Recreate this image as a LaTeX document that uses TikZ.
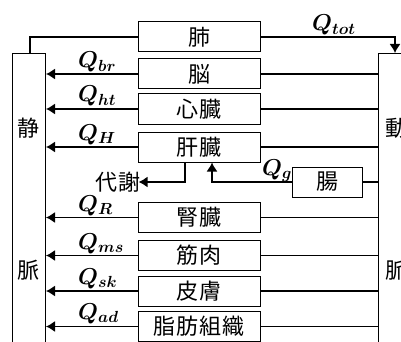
\documentclass[tikz,border=0pt]{standalone}
\usepackage{fix-cm}
\usepackage{amsmath}
\usepackage{fontspec}
\newfontfamily\jp{Noto Sans CJK JP}[LetterSpace=4]
\usetikzlibrary{arrows.meta}
\begin{document}
\begin{tikzpicture}[x=1pt,y=-1pt,
  box/.style={draw, line width=1pt, inner sep=0pt},
  organ/.style={box, minimum width=122pt, minimum height=30pt, font=\jp\fontsize{22}{22}\selectfont},
  jtext/.style={inner sep=0pt, font=\jp\fontsize{22}{22}\selectfont},
  flow/.style={line width=1.3pt},
  arr/.style={flow, -{Latex[length=9pt,width=11pt]}},
  ql/.style={anchor=base west, inner sep=0pt, font=\fontsize{23}{23}\selectfont\boldmath}]
\useasboundingbox (0,0) rectangle (401,342);
\clip (0,0) rectangle (401,342);
% vessels
\node[box, anchor=north west, minimum width=33pt, minimum height=320pt] (vein) at (12,53) {};
\node[box, anchor=north west, minimum width=40pt, minimum height=320pt] (art) at (378,53) {};
\node[jtext] (v1) at (28.5,128) {静};
\node[jtext] (v2) at (28.5,270) {脈};
\node[jtext] (a1) at (396,128) {動};
\node[jtext] (a2) at (396,270) {脈};
% organs
\node[organ] (lung) at (199,37) {肺};
\node[organ] (brain) at (199,74) {脳};
\node[organ] (heart) at (199,109) {心臓};
\node[organ] (liver) at (199,147) {肝臓};
\node[organ] (kidney) at (199,217.5) {腎臓};
\node[organ] (muscle) at (199,255.5) {筋肉};
\node[organ] (skin) at (199,291) {皮膚};
\node[organ] (fat) at (199,326.5) {脂肪組織};
\node[organ, minimum width=70pt] (gut) at (327,182) {腸};
\node[jtext] (metab) at (118,182) {代謝};
% lung loop
\coordinate (vtop) at (30,53);
\coordinate (atop) at (395,53);
\draw[flow] (lung.west) -| (vtop);
\draw[arr] (lung.east) -| (atop);
% organ connections
\foreach \o in {brain,heart,liver,kidney,muscle,skin,fat}{
  \draw[arr] (\o.west) -- (\o.west -| vein.east);
  \draw[flow] (\o.east) -- (\o.east -| art.west);
}
\draw[flow] (gut.east) -- (gut.east -| art.west);
\draw[arr] (gut.west) -| ([xshift=13pt]liver.south);
\draw[arr] ([xshift=-14pt]liver.south) |- ([xshift=-2pt]metab.east);
% labels
\node[ql] (qtot) at (312,31) {$Q_{tot}$};
\node[ql] (qbr) at (78,68) {$Q_{br}$};
\node[ql] (qht) at (78,102) {$Q_{ht}$};
\node[ql] (qh) at (78,140) {$Q_{H}$};
\node[ql] (qg) at (262,175) {$Q_{g}$};
\node[ql] (qr) at (78,211) {$Q_{R}$};
\node[ql] (qms) at (78,249) {$Q_{ms}$};
\node[ql] (qsk) at (78,284) {$Q_{sk}$};
\node[ql] (qad) at (78,319) {$Q_{ad}$};
\end{tikzpicture}
\end{document}
